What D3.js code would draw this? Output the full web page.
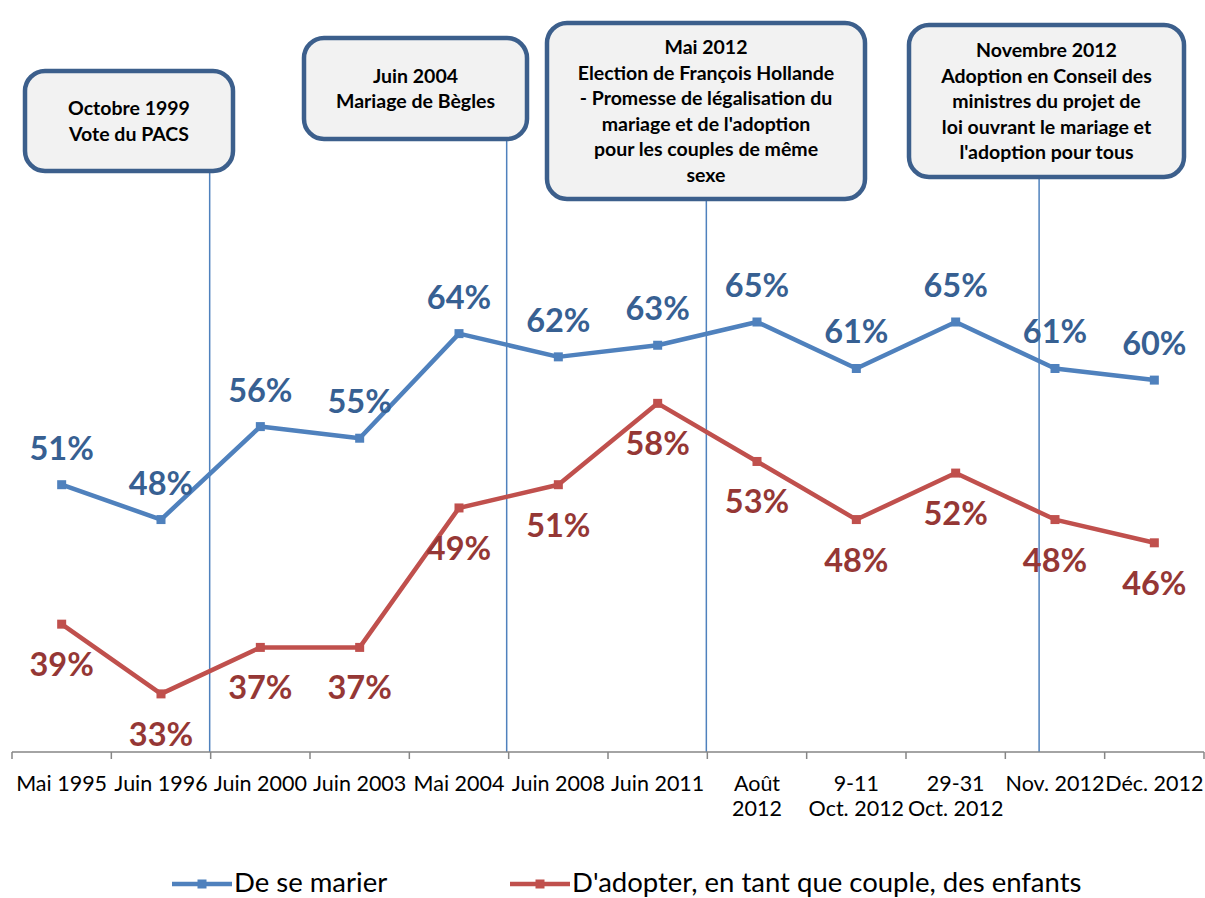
<!DOCTYPE html>
<html>
<head>
<meta charset="utf-8">
<script src="https://cdn.jsdelivr.net/npm/d3@7"></script>
<style>
  body { margin: 0; background: #fff; }
  svg { display: block; font-family: Lato, "Open Sans", sans-serif; }
</style>
</head>
<body>
<svg id="chart" width="1205" height="898"></svg>
<script>
// survey dates (x axis), one label line per entry
const categories = [
  ["Mai 1995"], ["Juin 1996"], ["Juin 2000"], ["Juin 2003"], ["Mai 2004"],
  ["Juin 2008"], ["Juin 2011"], ["Août", "2012"], ["9-11", "Oct. 2012"],
  ["29-31", "Oct. 2012"], ["Nov. 2012"], ["Déc. 2012"]
];
const marier = [51, 48, 56, 55, 64, 62, 63, 65, 61, 65, 61, 60];
const adopter = [39, 33, 37, 37, 49, 51, 58, 53, 48, 52, 48, 46];
const seriesNames = ["De se marier", "D'adopter, en tant que couple, des enfants"];

// events: position on the category axis (index, fractional) and box text
const eventPos = [1.49, 4.48, 6.49, 9.84];
const eventText = [
  ["Octobre 1999", "Vote du PACS"],
  ["Juin 2004", "Mariage de Bègles"],
  ["Mai 2012", "Election de François Hollande", "- Promesse de légalisation du",
   "mariage et de l'adoption", "pour les couples de même", "sexe"],
  ["Novembre 2012", "Adoption en Conseil des", "ministres du projet de",
   "loi ouvrant le mariage et", "l'adoption pour tous"]
];
// box frames [x, y, w, h]
const eventBox = [[25, 71, 208, 100], [304, 38, 223, 101], [547, 23, 318, 176], [909, 25, 275, 152]];

const svg = d3.select("#chart");
const blue = "#4f81bd", red = "#c0504d";
const blueText = "#376092", redText = "#953735";

const x = d3.scaleBand().domain(d3.range(categories.length)).range([12, 1204]);
const y = d3.scaleLinear().domain([28, 65]).range([752, 322]);
const cx = i => x(i) + x.bandwidth() / 2;
const ex = p => x(0) + (p + 0.5) * x.bandwidth();

// event lines and boxes
eventPos.forEach(function (p, k) {
  const b = eventBox[k];
  svg.append("line")
    .attr("x1", ex(p)).attr("x2", ex(p))
    .attr("y1", b[1] + b[3]).attr("y2", y(28))
    .attr("stroke", blue).attr("stroke-width", 1.5);
  svg.append("rect")
    .attr("x", b[0]).attr("y", b[1]).attr("width", b[2]).attr("height", b[3])
    .attr("rx", 20).attr("ry", 20)
    .attr("fill", "#f2f2f2").attr("stroke", "#3c5f8c").attr("stroke-width", 4.5);
  const lines = eventText[k];
  const lh = 25.5;
  const top = b[1] + b[3] / 2 - (lines.length - 1) * lh / 2;
  const t = svg.append("text")
    .attr("text-anchor", "middle")
    .attr("font-weight", "bold").attr("font-size", 19.5).attr("fill", "#000");
  lines.forEach(function (l, j) {
    t.append("tspan").attr("x", b[0] + b[2] / 2).attr("y", top + j * lh + 7).text(l);
  });
});

// x axis
const axis = svg.append("g").attr("transform", "translate(0," + y(28) + ")");
axis.append("line").attr("x1", 12).attr("x2", 1204).attr("stroke", "#868686").attr("stroke-width", 1.5);
d3.range(categories.length + 1).forEach(function (i) {
  const tx = i < categories.length ? x(i) : x.range()[1];
  axis.append("line").attr("x1", tx).attr("x2", tx).attr("y1", 0).attr("y2", 7)
    .attr("stroke", "#868686").attr("stroke-width", 1.5);
});
categories.forEach(function (c, i) {
  const t = axis.append("text").attr("text-anchor", "middle").attr("font-size", 21.5).attr("fill", "#000");
  c.forEach(function (l, j) {
    t.append("tspan").attr("x", cx(i)).attr("y", 39 + j * 25).text(l);
  });
});

// series
function drawSeries(vals, color, labelColor, above) {
  const line = d3.line().x((d, i) => cx(i)).y(d => y(d));
  svg.append("path").datum(vals).attr("d", line)
    .attr("fill", "none").attr("stroke", color).attr("stroke-width", 4.5)
    .attr("stroke-linejoin", "round");
  svg.selectAll(null).data(vals).join("rect")
    .attr("x", (d, i) => cx(i) - 4.5).attr("y", d => y(d) - 4.5)
    .attr("width", 9).attr("height", 9).attr("fill", color);
  svg.selectAll(null).data(vals).join("text")
    .attr("x", (d, i) => cx(i)).attr("y", d => y(d) + (above ? -25 : 52))
    .attr("text-anchor", "middle").attr("font-weight", "bold").attr("font-size", 32.5)
    .attr("fill", labelColor).text(d => d + "%");
}
drawSeries(marier, blue, blueText, true);
drawSeries(adopter, red, redText, false);

// legend
const legend = [[172, blue], [510, red]];
legend.forEach(function (l, k) {
  const g = svg.append("g").attr("transform", "translate(" + l[0] + ",884)");
  g.append("line").attr("x1", 0).attr("x2", 60).attr("stroke", l[1]).attr("stroke-width", 4.5);
  g.append("rect").attr("x", 25.5).attr("y", -4.5).attr("width", 9).attr("height", 9).attr("fill", l[1]);
  g.append("text").attr("x", 62).attr("y", 8).attr("font-size", 27.5).attr("fill", "#000").text(seriesNames[k]);
});
</script>
</body>
</html>
